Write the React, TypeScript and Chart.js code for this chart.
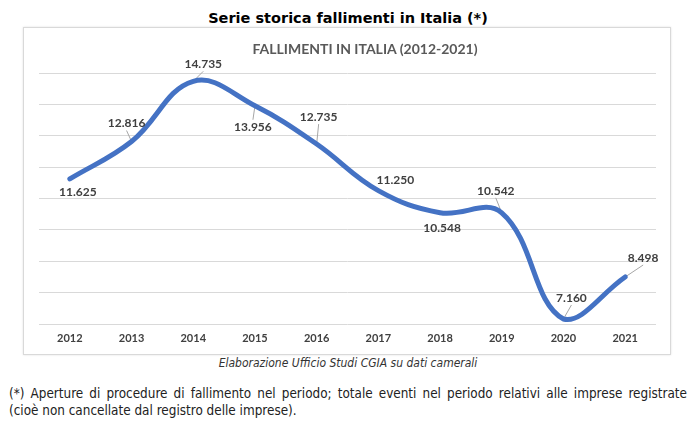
import React, { useEffect, useRef } from "react";
import { Chart, registerables } from "chart.js";

Chart.register(...registerables);

// ---- data ----
const years = ["2012", "2013", "2014", "2015", "2016", "2017", "2018", "2019", "2020", "2021"];
const fallimenti = [11625, 12816, 14735, 13956, 12735, 11250, 10548, 10542, 7160, 8498];
const yMin = 7000;
const yMax = 15000;
const yStep = 1000;

// label placement (pixel offsets from the point) and leader-line flags
const labelOffsets: [number, number][] = [
  [8, 13], [-5, -18], [10, -17], [-2, 21], [2, -27],
  [17, -11], [2, 15], [-6, -22], [8, -21], [18, -19],
];
const leaderShown = [false, true, true, true, true, false, false, true, true, true];

const pageTitle = "Serie storica fallimenti in Italia (*)";
const chartTitle = "FALLIMENTI IN ITALIA (2012-2021)";
const caption = "Elaborazione Ufficio Studi CGIA su dati camerali";
const noteLine1 =
  "(*) Aperture di procedure di fallimento nel periodo; totale eventi nel periodo relativi alle imprese registrate";
const noteLine2 = "(cioè non cancellate dal registro delle imprese).";

const fmt = (n: number) => String(n).replace(/\B(?=(\d{3})+(?!\d))/g, ".");

const LABEL_FONT = "bold 12px Lato";

const labelPlugin = {
  id: "valueLabels",
  beforeDatasetsDraw(chart: any) {
    const ctx = chart.ctx;
    const meta = chart.getDatasetMeta(0);
    ctx.save();
    ctx.strokeStyle = "#a6a6a6";
    ctx.lineWidth = 1;
    meta.data.forEach((pt: any, i: number) => {
      if (!leaderShown[i]) return;
      const [dx, dy] = labelOffsets[i];
      const lx = pt.x + dx;
      const ly = pt.y + dy;
      const sy = dy < 0 ? ly + 7 : ly - 7;
      ctx.beginPath();
      ctx.moveTo(lx, sy);
      ctx.lineTo(pt.x, pt.y);
      ctx.stroke();
    });
    ctx.restore();
  },
  afterDatasetsDraw(chart: any) {
    const ctx = chart.ctx;
    const meta = chart.getDatasetMeta(0);
    const data = chart.data.datasets[0].data as number[];
    ctx.save();
    ctx.font = LABEL_FONT;
    ctx.fillStyle = "#404040";
    ctx.textAlign = "center";
    ctx.textBaseline = "middle";
    meta.data.forEach((pt: any, i: number) => {
      const [dx, dy] = labelOffsets[i];
      ctx.fillText(fmt(data[i]), pt.x + dx, pt.y + dy);
    });
    ctx.restore();
  },
};

function LineChart() {
  const ref = useRef<HTMLCanvasElement | null>(null);
  useEffect(() => {
    if (!ref.current) return;
    const chart = new Chart(ref.current, {
      type: "line",
      data: {
        labels: years,
        datasets: [
          {
            data: fallimenti,
            borderColor: "#4472C4",
            borderWidth: 5,
            borderCapStyle: "round",
            borderJoinStyle: "round",
            tension: 0.4,
            pointRadius: 0,
            fill: false,
          },
        ],
      },
      options: {
        animation: false,
        responsive: false,
        maintainAspectRatio: false,
        layout: { padding: { left: 15, right: 14, top: 45, bottom: 0 } },
        plugins: {
          legend: { display: false },
          tooltip: { enabled: false },
          title: { display: false },
        },
        scales: {
          x: {
            offset: true,
            grid: { display: false, drawTicks: false },
            border: { display: false },
            ticks: {
              color: "#404040",
              font: { family: "Lato", size: 11, weight: "bold" },
              padding: 8,
              maxRotation: 0,
            },
            afterFit: (s: any) => {
              s.height = 30;
            },
          },
          y: {
            min: yMin,
            max: yMax,
            ticks: { display: false, stepSize: yStep },
            grid: { color: "#d9d9d9", lineWidth: 1, drawTicks: false },
            border: { display: false },
            afterFit: (s: any) => {
              s.width = 0;
            },
          },
        },
      } as any,
      plugins: [labelPlugin],
    });
    return () => chart.destroy();
  }, []);
  return <canvas ref={ref} width={646} height={326} style={{ display: "block", width: 646, height: 326 }} />;
}

export default function App() {
  const cond = "'DejaVu Sans Condensed', 'DejaVu Sans', sans-serif";
  return (
    <div
      style={{
        position: "absolute",
        left: 0,
        top: 0,
        width: 696,
        height: 443,
        background: "#fff",
        overflow: "hidden",
      }}
    >
      <div
        style={{
          position: "absolute",
          top: 9,
          left: 0,
          width: 696,
          textAlign: "center",
          font: "bold 14.5px 'DejaVu Sans', sans-serif",
          lineHeight: "18px",
          color: "#000",
        }}
      >
        {pageTitle}
      </div>
      <div
        style={{
          position: "absolute",
          left: 23,
          top: 27,
          width: 646,
          height: 326,
          border: "1px solid #d9d9d9",
          boxShadow: "0 0 2px rgba(0,0,0,0.12)",
        }}
      >
        <div style={{ position: "absolute", left: 0, top: 0 }}>
          <LineChart />
        </div>
        <div
          style={{
            position: "absolute",
            left: 341,
            top: 12,
            transform: "translateX(-50%)",
            whiteSpace: "nowrap",
            font: "bold 14px Lato",
            lineHeight: "18px",
            color: "#595959",
          }}
        >
          {chartTitle}
        </div>
      </div>
      <div
        style={{
          position: "absolute",
          top: 356,
          left: 0,
          width: 696,
          textAlign: "center",
          font: `italic 12px ${cond}`,
          lineHeight: "14px",
          color: "#333",
        }}
      >
        {caption}
      </div>
      <div
        style={{
          position: "absolute",
          top: 385,
          left: 9,
          width: 678,
          font: `13.4px ${cond}`,
          lineHeight: "17px",
          color: "#222",
        }}
      >
        <div style={{ textAlign: "justify", textAlignLast: "justify" as any }}>{noteLine1}</div>
        <div>{noteLine2}</div>
      </div>
    </div>
  );
}
